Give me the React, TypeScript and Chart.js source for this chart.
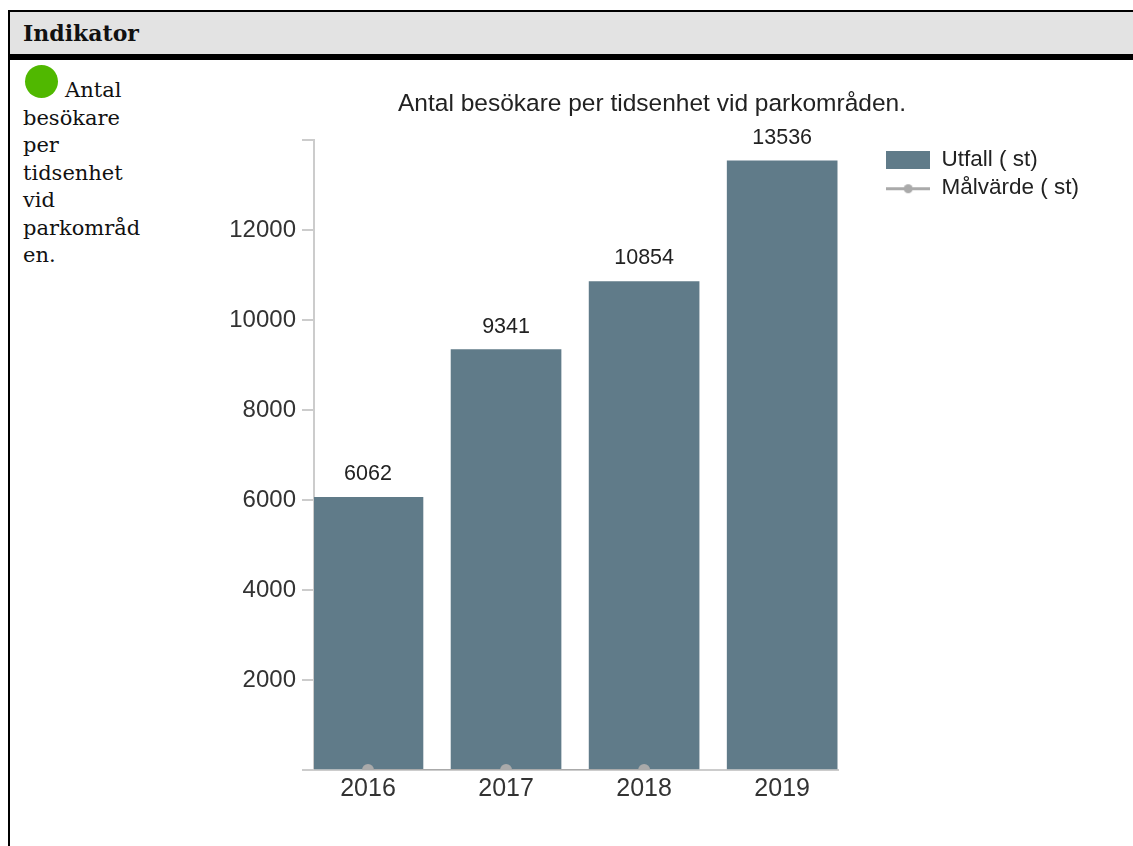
import React, { useEffect, useRef } from "react";
import { Chart, registerables } from "chart.js";

Chart.register(...registerables);

const years = [2016, 2017, 2018, 2019];
const outcome = [6062, 9341, 10854, 13536];
const targetYears = [2016, 2017, 2018];
const target = [0, 0, 0];
const yTicks = [0, 2000, 4000, 6000, 8000, 10000, 12000, 14000];
const title = "Antal besökare per tidsenhet vid parkområden.";
const seriesNames = ["Utfall ( st)", "Målvärde ( st)"];
const descriptionLines = ["Antal", "besökare", "per", "tidsenhet", "vid", "parkområd", "en."];

const BAR = "#607b89";
const TARGET = "#aaaaaa";
const AXIS = "#cccccc";
const TEXT = "#333333";
const SANS = "'Liberation Sans', Arial, sans-serif";
const SERIF = "'DejaVu Serif', serif";

function legendSwatch(kind: "bar" | "line") {
  const c = document.createElement("canvas");
  c.width = 44;
  c.height = 18;
  const g = c.getContext("2d")!;
  if (kind === "bar") {
    g.fillStyle = BAR;
    g.fillRect(0, 0, 44, 18);
  } else {
    g.fillStyle = TARGET;
    g.fillRect(0, 8, 44, 3);
    g.beginPath();
    g.arc(22, 9.5, 4.5, 0, Math.PI * 2);
    g.fill();
  }
  return c;
}

const valueLabels = {
  id: "valueLabels",
  afterLayout(chart: any) {
    chart.legend.top += 3.5;
  },
  afterDatasetsDraw(chart: any) {
    const meta = chart.getDatasetMeta(0);
    const g = chart.ctx;
    g.save();
    g.font = `21.5px ${SANS}`;
    g.fillStyle = "#222222";
    g.textAlign = "center";
    g.textBaseline = "middle";
    meta.data.forEach((bar: any, i: number) => {
      g.fillText(String(outcome[i]), bar.x, bar.y - 23);
    });
    g.restore();
  },
};

export default function App() {
  const ref = useRef<HTMLCanvasElement>(null);

  useEffect(() => {
    const swatches = [legendSwatch("bar"), legendSwatch("line")];
    const chart = new Chart(ref.current!, {
      data: {
        datasets: [
          {
            type: "bar",
            label: seriesNames[0],
            data: years.map((x, i) => ({ x, y: outcome[i] })),
            backgroundColor: BAR,
            barThickness: 110,
            order: 2,
          },
          {
            type: "line",
            label: seriesNames[1],
            data: targetYears.map((x, i) => ({ x, y: target[i] })),
            borderColor: TARGET,
            backgroundColor: TARGET,
            borderWidth: 2,
            pointRadius: 6,
            pointBackgroundColor: TARGET,
            pointBorderWidth: 0,
            order: 1,
          },
        ],
      } as any,
      options: {
        responsive: false,
        animation: false,
        layout: { padding: { right: 44 } },
        plugins: {
          title: {
            display: true,
            text: title,
            color: "#222222",
            font: { family: SANS, size: 24.5, weight: "normal", lineHeight: 1.2 },
            padding: { top: 29.3, bottom: 21.3 },
          },
          tooltip: { enabled: false },
          legend: {
            position: "right",
            align: "start",
            fullSize: false,
            maxWidth: 400,
            labels: {
              font: { family: SANS, size: 22.5 },
              color: "#222222",
              padding: 5.5,
              boxHeight: 18,
              usePointStyle: true,
              pointStyleWidth: 44,
              sort: (a: any, b: any) => a.datasetIndex - b.datasetIndex,
              generateLabels(c: any) {
                const items = Chart.defaults.plugins.legend.labels.generateLabels(c);
                return items.map((it: any) => ({
                  ...it,
                  pointStyle: swatches[it.datasetIndex],
                }));
              },
            },
          },
        },
        scales: {
          x: {
            type: "linear",
            offset: false,
            min: 2015.609,
            max: 2019.406,
            grid: { display: false, offset: false },
            border: { color: AXIS, width: 2 },
            afterBuildTicks(s: any) {
              s.ticks = years.map((value) => ({ value }));
            },
            afterFit(s: any) {
              s.height = 76;
            },
            ticks: {
              autoSkip: false,
              maxRotation: 0,
              padding: -4,
              color: TEXT,
              font: { family: SANS, size: 25 },
              callback: (v: any) => String(v),
            },
          },
          y: {
            min: 0,
            max: 14000,
            grid: { drawOnChartArea: false, tickLength: 12, color: AXIS, lineWidth: 2 },
            border: { color: AXIS, width: 2 },
            afterBuildTicks(s: any) {
              s.ticks = yTicks.map((value) => ({ value }));
            },
            afterFit(s: any) {
              s.width = 99;
            },
            ticks: {
              autoSkip: false,
              padding: 6,
              color: TEXT,
              font: { family: SANS, size: 24 },
              callback: (v: any) => (v === 0 || v === 14000 ? "" : String(v)),
            },
          },
          spacer: {
            position: "right",
            display: true,
            grid: { display: false },
            border: { display: false },
            ticks: { display: false },
            afterFit(s: any) {
              s.width = 42.5;
            },
          },
        },
      } as any,
      plugins: [valueLabels],
    });
    return () => chart.destroy();
  }, []);

  return (
    <div style={{ position: "fixed", inset: 0, overflow: "hidden", background: "#fff" }}>
      <div style={{ position: "absolute", left: 8, top: 10, right: 0, height: 2, background: "#000" }} />
      <div style={{ position: "absolute", left: 8, top: 10, width: 2, bottom: 0, background: "#000" }} />
      <div
        style={{
          position: "absolute",
          left: 10,
          top: 12,
          right: 0,
          height: 42,
          background: "#e3e3e3",
          borderBottom: "6px solid #000",
          fontFamily: SERIF,
          fontWeight: "bold",
          fontSize: 22,
          lineHeight: "42px",
          paddingLeft: 13,
          color: "#111",
        }}
      >
        Indikator
      </div>
      <div style={{ position: "absolute", left: 25, top: 65, width: 33, height: 33, borderRadius: "50%", background: "#50b800" }} />
      <div style={{ position: "absolute", left: 23, top: 77, fontFamily: SERIF, fontSize: 21, lineHeight: "27.5px", color: "#111" }}>
        {descriptionLines.map((l, i) => (
          <div key={i} style={{ paddingLeft: i === 0 ? 42 : 0 }}>{l}</div>
        ))}
      </div>
      <canvas ref={ref} width={918} height={786} style={{ position: "absolute", left: 215, top: 60, display: "block" }} />
    </div>
  );
}
